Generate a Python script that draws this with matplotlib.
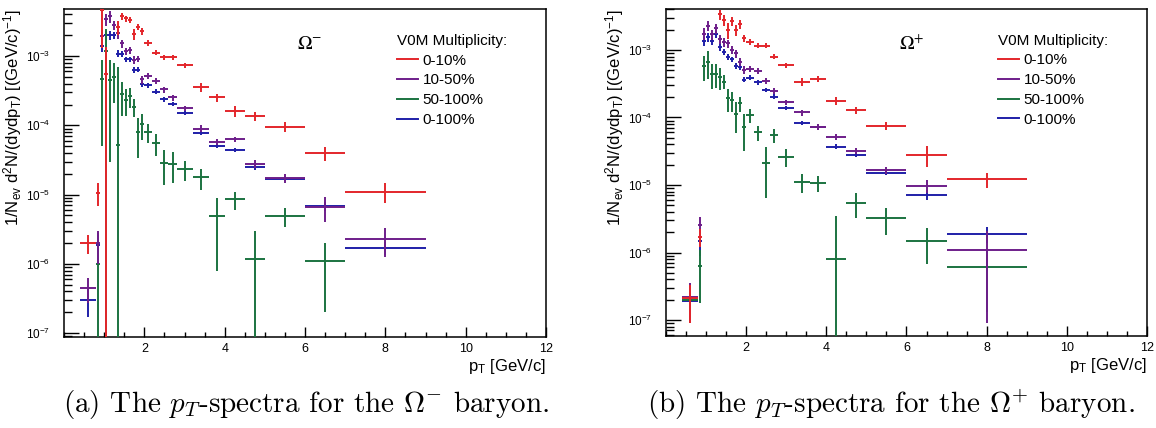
#!/usr/bin/env python3
"""Omega- / Omega+ pT spectra in V0M multiplicity classes (ROOT-style look)."""

import numpy as np
import matplotlib
matplotlib.use('Agg')
import matplotlib.pyplot as plt
from matplotlib.lines import Line2D
from matplotlib.ticker import LogLocator, NullFormatter, MultipleLocator

nan = np.nan

# pT bins [GeV/c]
pt_centers = [0.6, 0.85, 0.95, 1.05, 1.15, 1.25, 1.35, 1.45, 1.55, 1.65, 1.75, 1.85,
              1.95, 2.1, 2.3, 2.5, 2.7, 3.0, 3.4, 3.8, 4.25, 4.75, 5.5, 6.5, 8.0]
pt_halfwidth = [0.2, 0.05, 0.05, 0.05, 0.05, 0.05, 0.05, 0.05, 0.05, 0.05, 0.05, 0.05,
                0.05, 0.1, 0.1, 0.1, 0.1, 0.2, 0.2, 0.2, 0.25, 0.25, 0.5, 0.5, 1.0]

labels = ['0-10%', '10-50%', '50-100%', '0-100%']
colors = ['#e3262b', '#6e1e8a', '#1b7340', '#1f1fa8']

# ---- Omega- (left panel) ----
om_red = [2.0e-6, 1.07e-5, 4.6e-3, 5.5e-4, nan, nan, 2.6e-3, 3.78e-3, 3.5e-3, 3.3e-3, 2.1e-3, 2.65e-3,
          2.3e-3, 1.55e-3, 1.12e-3, 9.6e-4, 9.6e-4, 7.4e-4, 3.55e-4, 2.53e-4, 1.6e-4, 1.36e-4, 9.5e-5, 3.95e-5, 1.1e-5]
om_red_err = [0.6e-6, 0.38e-5, 3.3e-3, 8.0e-4, nan, nan, 6e-4, 4.5e-4, 3.5e-4, 3.3e-4, 4.0e-4, 3.0e-4,
              2.5e-4, 1.6e-4, 1.0e-4, 8e-5, 8e-5, 6e-5, 5e-5, 3.5e-5, 2.8e-5, 2.2e-5, 1.6e-5, 9e-6, 3.5e-6]
om_purple = [4.5e-7, 2.0e-6, 1.94e-3, 3.38e-3, 3.78e-3, 2.8e-3, 2.12e-3, 1.52e-3, 1.19e-3, 1.22e-3, 8.8e-4, 9.1e-4,
             4.6e-4, 5.15e-4, 4.4e-4, 3.3e-4, 2.53e-4, 1.76e-4, 9.0e-5, 5.8e-5, 6.3e-5, 2.8e-5, 1.72e-5, 6.6e-6, 2.26e-6]
om_purple_err = [1.8e-7, 1.0e-6, 4.8e-4, 6.8e-4, 7.5e-4, 4.5e-4, 3.5e-4, 2.0e-4, 1.4e-4, 1.4e-4, 1.1e-4, 1.0e-4,
                 6e-5, 5.5e-5, 4.4e-5, 3.3e-5, 2.5e-5, 1.6e-5, 1.0e-5, 5.5e-6, 5.5e-6, 4.0e-6, 2.7e-6, 2.6e-6, 1.0e-6]
om_green = [nan, 1.0e-6, 4.6e-4, 1.19e-3, 4.5e-4, 5.0e-4, 5.2e-5, 2.8e-4, 2.35e-4, 2.65e-4, 1.86e-4, 8.1e-5,
            1.04e-4, 8.1e-5, 5.6e-5, 2.9e-5, 2.77e-5, 2.32e-5, 1.78e-5, 4.9e-6, 8.55e-6, 1.17e-6, 4.9e-6, 1.1e-6, nan]
om_green_err = [nan, 1.05e-6, 4.1e-4, 1.25e-3, 4.2e-4, 2.9e-4, 6.5e-4, 1.45e-4, 1.0e-4, 0.85e-4, 0.55e-4, 4.7e-5,
                4.2e-5, 2.5e-5, 2.0e-5, 1.5e-5, 1.3e-5, 0.75e-5, 0.6e-5, 4.1e-6, 2.5e-6, 1.85e-6, 1.45e-6, 0.9e-6, nan]
om_blue = [3.0e-7, 1.9e-6, 1.39e-3, 2.0e-3, 2.0e-3, 2.0e-3, 1.09e-3, 1.09e-3, 8.95e-4, 8.95e-4, 6.3e-4, 6.4e-4,
           3.94e-4, 3.8e-4, 3.06e-4, 2.37e-4, 2.03e-4, 1.52e-4, 7.8e-5, 5.0e-5, 4.4e-5, 2.5e-5, 1.7e-5, 6.8e-6, 1.7e-6]
om_blue_err = [1.3e-7, 0.9e-6, 2.5e-4, 3.0e-4, 3.0e-4, 2.5e-4, 1.2e-4, 1.1e-4, 8e-5, 8e-5, 6e-5, 5.5e-5,
               3.5e-5, 3e-5, 2.4e-5, 1.8e-5, 1.5e-5, 1.0e-5, 5.5e-6, 3.5e-6, 3.0e-6, 2.0e-6, 1.3e-6, 1.0e-6, 0.35e-6]

# ---- Omega+ (right panel) ----
op_red = [2.1e-7, 1.71e-6, nan, nan, nan, nan, 3.37e-3, 2.78e-3, 1.98e-3, 2.69e-3, 1.98e-3, 2.4e-3,
          1.49e-3, 1.33e-3, 1.16e-3, 1.16e-3, 8.0e-4, 6.0e-4, 3.35e-4, 3.72e-4, 1.75e-4, 1.28e-4, 7.5e-5, 2.8e-5, 1.21e-5]
op_red_err = [1.2e-7, 0.5e-6, nan, nan, nan, nan, 6e-4, 5e-4, 5e-4, 4.3e-4, 3.6e-4, 3.6e-4,
              1.8e-4, 1.3e-4, 1.0e-4, 9e-5, 7e-5, 5e-5, 4.5e-5, 4e-5, 2.3e-5, 1.6e-5, 1.0e-5, 9.5e-6, 3.0e-6]
op_purple = [2.2e-7, 2.55e-6, 1.75e-3, 2.3e-3, 1.7e-3, 2.1e-3, 1.45e-3, 1.3e-3, 1.25e-3, 1.0e-3, 8.9e-4, 6.7e-4,
             5.1e-4, 5.2e-4, 4.9e-4, 3.45e-4, 2.5e-4, 1.68e-4, 1.19e-4, 7.3e-5, 5.1e-5, 3.2e-5, 1.67e-5, 9.7e-6, 1.09e-6]
op_purple_err = [1.3e-7, 0.8e-6, 3.5e-4, 4.0e-4, 3.0e-4, 3.5e-4, 2.2e-4, 2.0e-4, 1.8e-4, 1.4e-4, 1.2e-4, 9e-5,
                 7e-5, 5.5e-5, 5e-5, 3.5e-5, 2.5e-5, 1.6e-5, 1.2e-5, 7e-6, 5e-6, 3.5e-6, 2e-6, 2.2e-6, 1.0e-6]
op_green = [2.0e-7, 6.3e-7, 5.8e-4, 6.7e-4, 4.4e-4, 4.4e-4, 3.94e-4, 3.4e-4, 1.92e-4, 1.82e-4, 1.13e-4, 1.62e-4,
            7.15e-5, 1.09e-4, 6.0e-5, 2.14e-5, 5.5e-5, 2.63e-5, 1.12e-5, 1.08e-5, 7.9e-7, 5.47e-6, 3.2e-6, 1.48e-6, 6.0e-7]
op_green_err = [1.0e-7, 4.5e-7, 2.3e-4, 3.0e-4, 1.8e-4, 1.7e-4, 1.4e-4, 0.8e-4, 0.7e-4, 0.6e-4, 0.55e-4, 0.4e-4,
                0.4e-4, 0.25e-4, 1.5e-5, 1.5e-5, 1.3e-5, 0.8e-5, 0.35e-5, 0.3e-5, 2.7e-6, 2.2e-6, 1.4e-6, 0.8e-6, 4.7e-7]
op_blue = [1.9e-7, 1.48e-6, 1.36e-3, 1.55e-3, 1.35e-3, 1.7e-3, 1.1e-3, 9.45e-4, 7.8e-4, 7.3e-4, 5.86e-4, 5.67e-4,
           3.65e-4, 3.9e-4, 3.3e-4, 2.55e-4, 2.04e-4, 1.37e-4, 8.4e-5, 7.15e-5, 3.7e-5, 2.78e-5, 1.52e-5, 7.1e-6, 1.88e-6]
op_blue_err = [1.0e-7, 0.6e-6, 2.0e-4, 2.2e-4, 1.8e-4, 2.0e-4, 1.2e-4, 1.0e-4, 8e-5, 7e-5, 6e-5, 5.5e-5,
               3.5e-5, 3.2e-5, 2.6e-5, 2e-5, 1.6e-5, 1.0e-5, 6e-6, 5e-6, 3e-6, 2.2e-6, 1.3e-6, 1.2e-6, 0.5e-6]

plt.rcParams['font.family'] = ['Liberation Sans', 'DejaVu Sans']
plt.rcParams['mathtext.fontset'] = 'custom'
plt.rcParams['mathtext.rm'] = 'Liberation Sans'
plt.rcParams['mathtext.it'] = 'Liberation Sans:italic'
plt.rcParams['mathtext.bf'] = 'Liberation Sans:bold'
plt.rcParams['mathtext.sf'] = 'Liberation Sans'


def draw_panel(ax, series, ylim, omega_label):
    """series: list of (values, errors) in legend order."""
    pt = np.array(pt_centers)
    hw = np.array(pt_halfwidth)
    # draw blue first, purple/red on top like in the reference
    order = [3, 2, 1, 0]
    for k in order:
        y = np.array(series[k][0], dtype=float)
        e = np.array(series[k][1], dtype=float)
        m = ~np.isnan(y)
        y, e, x, w = y[m], e[m], pt[m], hw[m]
        lower = np.where(y - e > 0, e, y - ylim[0] * 0.5)
        ax.errorbar(x, y, xerr=w, yerr=[lower, e], fmt='none',
                    ecolor=colors[k], elinewidth=1.4, capsize=0, zorder=3 + (3 - k))

    ax.set_yscale('log')
    ax.set_xlim(0, 12)
    ax.set_ylim(*ylim)

    ax.xaxis.set_major_locator(MultipleLocator(2))
    ax.xaxis.set_minor_locator(MultipleLocator(0.5))
    ax.set_xticks([2, 4, 6, 8, 10, 12])
    ax.yaxis.set_major_locator(LogLocator(base=10, numticks=20))
    ax.yaxis.set_minor_locator(LogLocator(base=10, subs=np.arange(2, 10), numticks=20))
    ax.yaxis.set_minor_formatter(NullFormatter())

    ax.tick_params(which='both', direction='in', top=False, right=False)
    ax.tick_params(axis='x', which='major', length=7.2, width=1.0, labelsize=9, pad=4)
    ax.tick_params(axis='x', which='minor', length=3.6, width=1.0)
    ax.tick_params(axis='y', which='major', length=10.8, width=1.0, labelsize=8.5, pad=10)
    ax.tick_params(axis='y', which='minor', length=5.4, width=1.0)
    for s in ax.spines.values():
        s.set_linewidth(1.1)

    ax.set_xlabel(r'p$_{\mathrm{T}}$ [GeV/c]', loc='right', fontsize=12, labelpad=2)
    ax.set_ylabel(r'1/N$_{\mathrm{ev}}$ d$^{2}$N/(dydp$_{\mathrm{T}}$) [(GeV/c)$^{-1}$]',
                  loc='top', fontsize=12, labelpad=1)

    ax.text(0.51, 0.893, omega_label, transform=ax.transAxes, ha='center', va='center',
            fontsize=14, math_fontfamily='stix')

    handles = [Line2D([], [], color=c, lw=1.4) for c in colors]
    ax.legend(handles, labels, loc='upper left', bbox_to_anchor=(0.69, 0.925),
              frameon=False, fontsize=11, title='V0M Multiplicity:', title_fontsize=11,
              alignment='left', handlelength=1.4, handletextpad=0.3, labelspacing=0.38,
              borderaxespad=0, borderpad=0)


fig = plt.figure(figsize=(11.56, 4.28), dpi=100)
ax_l = fig.add_axes([0.0554, 0.2126, 0.417, 0.766])
ax_r = fig.add_axes([0.5761, 0.215, 0.4161, 0.764])

draw_panel(ax_l, [(om_red, om_red_err), (om_purple, om_purple_err),
                  (om_green, om_green_err), (om_blue, om_blue_err)],
           (8.8e-8, 4.76e-3), r'$\Omega^{-}$')
draw_panel(ax_r, [(op_red, op_red_err), (op_purple, op_purple_err),
                  (op_green, op_green_err), (op_blue, op_blue_err)],
           (5.8e-8, 4.05e-3), r'$\Omega^{+}$')

fig.text(0.265, 0.054, r'(a) The $p_T$-spectra for the $\Omega^{-}$ baryon.',
         ha='center', va='center', fontsize=21, family='cmr10', math_fontfamily='cm')
fig.text(0.771, 0.054, r'(b) The $p_T$-spectra for the $\Omega^{+}$ baryon.',
         ha='center', va='center', fontsize=21, family='cmr10', math_fontfamily='cm')

fig.savefig('out.png', dpi=100)
